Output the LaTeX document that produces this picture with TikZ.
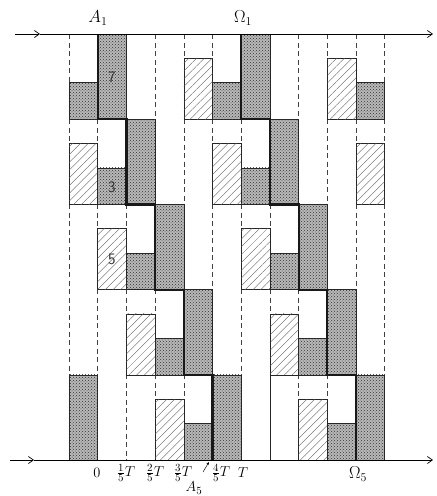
\documentclass[tikz,border=0pt]{standalone}
\usetikzlibrary{patterns,patterns.meta,arrows.meta}
\newcommand{\myblk}[4]{%
  \ifnum#1>-1 \ifnum#1<11
  \draw[blockline,#4] ({\xo+\cw*#1},{\yo+\rh*(#2+1)}) rectangle ({\xo+\cw*(#1+1)},{\yo+\rh*(#2+1)-\rh*#3/7});
  \fi\fi}
\begin{document}
\begin{tikzpicture}[x=1pt,y=-1pt,
  dashln/.style={line width=0.5pt,black!75,dash pattern=on 5pt off 3.5pt},
  blockline/.style={line width=0.6pt,black!85},
  dotfill/.style={fill=black!28,postaction={pattern=crosshatch dots,pattern color=black!80}},
  hatchfill/.style={fill=white,postaction={pattern={Lines[angle=45,distance=5.5pt,line width=0.35pt]},pattern color=black!65}},
  stair/.style={line width=2.2pt,black!90},
  axis/.style={line width=0.7pt},
  lab/.style={inner sep=1pt,font=\fontsize{15}{17}\selectfont},
  biglab/.style={inner sep=1pt,font=\fontsize{17}{19}\selectfont},
  numlab/.style={inner sep=1pt,text=black!80,font=\fontsize{16}{18}\selectfont\sffamily}]
\useasboundingbox (0,0) rectangle (437,496);
\def\cw{28.7}\def\xo{69}\def\rh{85.2}\def\yo{34}
% dashed column boundaries
\foreach \i in {0,...,11}{
  \draw[dashln] ({\xo+\cw*\i},\yo) -- ({\xo+\cw*\i},460);
}
% blocks
\foreach \r in {0,...,4}{
  \foreach \k in {-1,0,1,2}{
    \pgfmathtruncatemacro\ch{\r+5*\k-1}
    \pgfmathtruncatemacro\cd{\r+5*\k}
    \pgfmathtruncatemacro\cs{\r+5*\k+1}
    \myblk{\ch}{\r}{5}{hatchfill}
    \myblk{\cd}{\r}{3}{dotfill}
    \myblk{\cs}{\r}{7}{dotfill}
  }
}
% solid line in the last row
\draw[blockline] ({\xo+\cw*7},{\yo+\rh*4}) -- ({\xo+\cw*7},460);
% staircases
\draw[stair] ({\xo+\cw*1},\yo)
  \foreach \j in {1,...,4}{ -- ({\xo+\cw*\j},{\yo+\rh*\j}) -- ({\xo+\cw*(\j+1)},{\yo+\rh*\j}) }
  -- ({\xo+\cw*5},460);
\draw[stair] ({\xo+\cw*6},\yo)
  \foreach \j in {1,...,4}{ -- ({\xo+\cw*(\j+5)},{\yo+\rh*\j}) -- ({\xo+\cw*(\j+6)},{\yo+\rh*\j}) }
  -- ({\xo+\cw*10},460);
% axes
\coordinate (tl) at (15,34);
\coordinate (tm) at (40,34);
\coordinate (tr) at (433,34);
\coordinate (bl) at (10,460);
\coordinate (bm) at (34,460);
\coordinate (br) at (433,460);
\draw[axis,-{Straight Barb[length=5pt,width=7pt]}] (tl) -- (tm);
\draw[axis,-{Straight Barb[length=5pt,width=7pt]}] (tm) -- (tr);
\draw[axis,-{Straight Barb[length=5pt,width=7pt]}] (bl) -- (bm);
\draw[axis,-{Straight Barb[length=5pt,width=7pt]}] (bm) -- (br);
% labels
\node[biglab] (A1) at (98,18) {$A_1$};
\node[biglab] (O1) at (243,18) {$\Omega_1$};
\node[biglab] (O5) at (358,474) {$\Omega_5$};
\node[lab] (A5) at (194,488) {$A_5$};
\node[numlab] (n7) at (112,77) {7};
\node[numlab] (n3) at (112,187) {3};
\node[numlab] (n5) at (112,259) {5};
\node[lab] (t0) at (97,473) {$0$};
\node[lab] (t1) at (126,473) {$\frac15T$};
\node[lab] (t2) at (155,473) {$\frac25T$};
\node[lab] (t3) at (183,473) {$\frac35T$};
\node[lab] (t4) at (221,473) {$\frac45T$};
\node[lab] (t5) at (243,473) {$T$};
\coordinate (a5s) at (203,472);
\coordinate (a5e) at (209,462);
\draw[line width=0.5pt,-{Stealth[length=3pt,width=2.5pt]}] (a5s) -- (a5e);
\end{tikzpicture}
\end{document}
